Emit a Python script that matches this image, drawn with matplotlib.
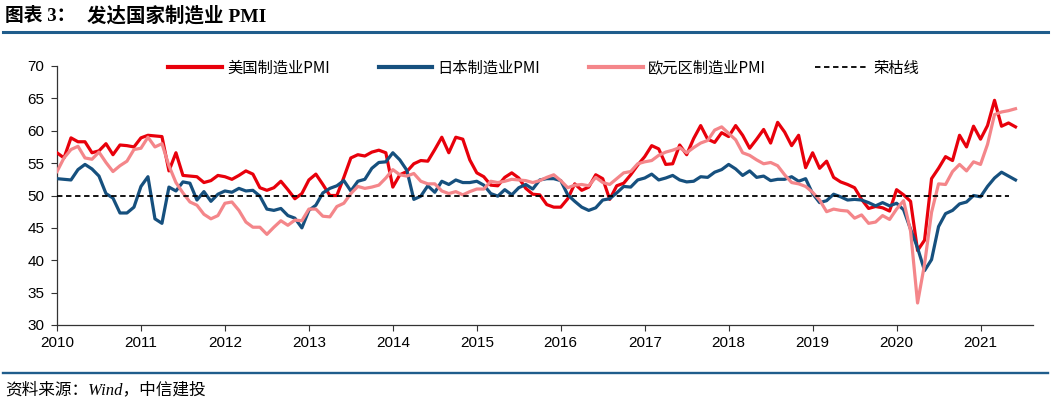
import matplotlib
matplotlib.use("Agg")
import matplotlib.pyplot as plt
from matplotlib.lines import Line2D

# ---------------- data (monthly, Jan 2010 - Jun 2021) ----------------
us_pmi = [
    56.6, 55.8, 58.9, 58.3, 58.3, 56.6, 56.9, 58.0, 56.3, 57.8, 57.7, 57.5,
    58.9, 59.3, 59.2, 59.1, 53.8, 56.6, 53.1, 53.0, 52.9, 52.0, 52.3, 53.1,
    52.9, 52.5, 53.1, 53.8, 53.3, 51.2, 50.8, 51.2, 52.2, 50.9, 49.5, 50.3,
    52.4, 53.3, 51.7, 50.0, 50.0, 52.8, 55.8, 56.3, 56.1, 56.7, 57.0, 56.6,
    51.3, 53.2, 53.7, 54.9, 55.4, 55.3, 57.1, 59.0, 56.6, 59.0, 58.7, 55.5,
    53.5, 52.9, 51.6, 51.5, 52.8, 53.5, 52.7, 51.1, 50.2, 50.1, 48.6, 48.2,
    48.2, 49.5, 51.8, 50.8, 51.3, 53.2, 52.6, 49.4, 51.5, 51.9, 53.2, 54.7,
    56.0, 57.7, 57.2, 54.8, 54.9, 57.8, 56.3, 58.8, 60.8, 58.7, 58.2, 59.7,
    59.1, 60.8, 59.3, 57.3, 58.7, 60.2, 58.1, 61.3, 59.8, 57.7, 59.3, 54.3,
    56.6, 54.2, 55.3, 52.8, 52.1, 51.7, 51.2, 49.4, 48.0, 48.3, 48.1, 47.6,
    50.9, 50.1, 49.1, 41.5, 43.1, 52.6, 54.2, 56.0, 55.4, 59.3, 57.5, 60.7,
    58.7, 60.8, 64.7, 60.7, 61.2, 60.6,
]
japan_pmi = [
    52.6, 52.5, 52.4, 54.0, 54.8, 54.1, 53.0, 50.3, 49.6, 47.3, 47.3, 48.2,
    51.4, 52.9, 46.4, 45.7, 51.3, 50.7, 52.1, 51.9, 49.3, 50.6, 49.1, 50.2,
    50.7, 50.5, 51.1, 50.7, 50.8, 49.9, 47.9, 47.7, 48.0, 46.9, 46.5, 45.0,
    47.7, 48.5, 50.4, 51.1, 51.5, 52.3, 50.7, 52.2, 52.5, 54.2, 55.1, 55.2,
    56.6, 55.5, 53.9, 49.4, 49.9, 51.5, 50.5, 52.2, 51.7, 52.4, 52.0, 52.0,
    52.2, 51.6, 50.3, 49.9, 50.9, 50.1, 51.2, 51.7, 51.0, 52.4, 52.6, 52.6,
    52.3, 50.1, 49.1, 48.2, 47.7, 48.1, 49.3, 49.5, 50.4, 51.4, 51.3, 52.4,
    52.7, 53.3, 52.4, 52.7, 53.1, 52.4, 52.1, 52.2, 52.9, 52.8, 53.6, 54.0,
    54.8, 54.1, 53.1, 53.8, 52.8, 53.0, 52.3, 52.5, 52.5, 52.9, 52.2, 52.6,
    50.3, 48.9, 49.2, 50.2, 49.8, 49.3, 49.4, 49.3, 48.9, 48.4, 48.9, 48.4,
    48.8, 47.8, 44.8, 41.9, 38.4, 40.1, 45.2, 47.2, 47.7, 48.7, 49.0, 50.0,
    49.8, 51.4, 52.7, 53.6, 53.0, 52.4,
]
euro_pmi = [
    53.7, 55.8, 57.1, 57.6, 55.8, 55.6, 56.7, 55.1, 53.7, 54.6, 55.3, 57.1,
    57.3, 59.0, 57.5, 58.0, 54.6, 52.0, 50.4, 49.0, 48.5, 47.1, 46.4, 46.9,
    48.8, 49.0, 47.7, 45.9, 45.1, 45.1, 44.0, 45.1, 46.1, 45.4, 46.2, 46.1,
    47.9, 47.9, 46.8, 46.7, 48.3, 48.8, 50.3, 51.4, 51.1, 51.3, 51.6, 52.7,
    54.0, 53.2, 53.0, 53.4, 52.2, 51.8, 51.8, 50.7, 50.3, 50.6, 50.1, 50.6,
    51.0, 51.0, 52.2, 52.0, 52.2, 52.5, 52.4, 52.3, 52.0, 52.3, 52.8, 53.2,
    52.3, 51.2, 51.6, 51.7, 51.5, 52.8, 52.0, 51.7, 52.6, 53.5, 53.7, 54.9,
    55.2, 55.4, 56.2, 56.7, 57.0, 57.4, 56.6, 57.4, 58.1, 58.5, 60.1, 60.6,
    59.6, 58.6, 56.6, 56.2, 55.5, 54.9, 55.1, 54.6, 53.2, 52.0, 51.8, 51.4,
    50.5, 49.3, 47.5, 47.9, 47.7, 47.6, 46.5, 47.0, 45.7, 45.9, 46.9, 46.3,
    47.9, 49.2, 44.5, 33.4, 39.4, 47.4, 51.8, 51.7, 53.7, 54.8, 53.8, 55.2,
    54.8, 57.9, 62.5, 62.9, 63.1, 63.4,
]
threshold = 50
year_labels = ["2010", "2011", "2012", "2013", "2014", "2015",
               "2016", "2017", "2018", "2019", "2020", "2021"]
y_ticks = [30, 35, 40, 45, 50, 55, 60, 65, 70]
series_names = ["美国制造业PMI", "日本制造业PMI", "欧元区制造业PMI", "荣枯线"]

# ---------------- styling ----------------
RED = "#E8000B"
BLUE = "#16507E"
PINK = "#F4868A"
RULE = "#1F5D8C"
W, H = 1051, 403

months = list(range(len(us_pmi)))
thr_x = months[:-1]
thr_y = [threshold] * len(thr_x)

fig = plt.figure(figsize=(W / 100, H / 100), dpi=100)
fig.patch.set_facecolor("white")

ax = fig.add_axes([57 / W, 1 - 325 / H, (1033 - 57) / W, (325 - 66) / H])
ax.plot(months, us_pmi, color=RED, lw=2.3, solid_joinstyle="round", zorder=3)
ax.plot(months, japan_pmi, color=BLUE, lw=2.3, solid_joinstyle="round", zorder=4)
ax.plot(months, euro_pmi, color=PINK, lw=2.3, solid_joinstyle="round", zorder=5)
ax.plot(thr_x, thr_y, color="black", lw=1.3, dashes=(3, 2), zorder=6)

ax.set_ylim(30, 70)
ax.set_xlim(0, 139.5)
ax.set_yticks(y_ticks)
ax.set_xticks([12 * i for i in range(len(year_labels))])
ax.set_xticklabels(year_labels)
for lab in ax.get_xticklabels() + ax.get_yticklabels():
    lab.set_fontfamily("Liberation Sans")
    lab.set_fontsize(11)
ax.tick_params(axis="both", direction="out", length=4, width=0.8,
               color="#333333", labelcolor="black")
ax.tick_params(axis="y", pad=5)
ax.tick_params(axis="x", pad=4)
for s in ["top", "right"]:
    ax.spines[s].set_visible(False)
for s in ["left", "bottom"]:
    ax.spines[s].set_color("#333333")
    ax.spines[s].set_linewidth(0.9)

handles = [
    Line2D([], [], color=RED, lw=3),
    Line2D([], [], color=BLUE, lw=3),
    Line2D([], [], color=PINK, lw=3),
    Line2D([], [], color="black", lw=1.3, dashes=(3, 2)),
]
fig.legend(handles, series_names, loc="center",
           bbox_to_anchor=(544 / W, 1 - 68 / H), ncol=4, frameon=False,
           handlelength=3.5, handletextpad=0.35, columnspacing=3.2,
           prop={"family": ["Noto Sans CJK SC"], "size": 11})

# ---------------- header / footer ----------------
title_font = ["Liberation Serif", "Noto Sans CJK SC"]
fig.text(5 / W, 1 - 16 / H, "图表 3：", ha="left", va="center",
         fontsize=13.5, fontweight="bold", family=title_font)
fig.text(87 / W, 1 - 16 / H, "发达国家制造业 PMI", ha="left", va="center",
         fontsize=14, fontweight="bold", family=title_font)
fig.add_artist(Line2D([3 / W, 1048 / W], [1 - 32 / H, 1 - 32 / H],
                      color=RULE, lw=2.2, transform=fig.transFigure))
fig.add_artist(Line2D([3 / W, 1048 / W], [1 - 373 / H, 1 - 373 / H],
                      color=RULE, lw=1.7, transform=fig.transFigure))
fig.text(5 / W, 1 - 390 / H, "资料来源：Wind，中信建投", ha="left", va="center",
         fontsize=12, style="italic", family=title_font)

fig.savefig("out.png", dpi=100, facecolor="white")
